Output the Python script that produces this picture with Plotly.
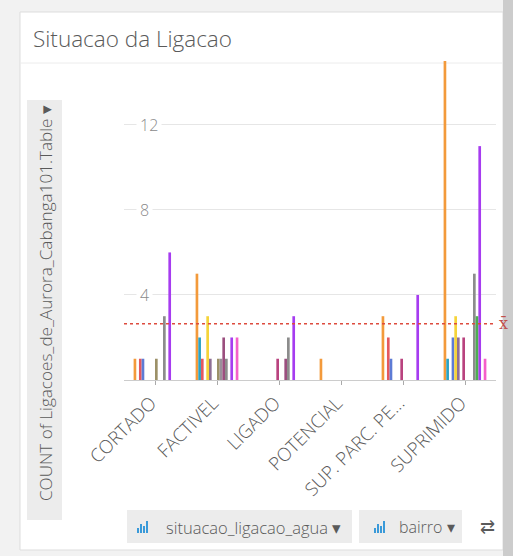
import plotly.graph_objects as go

# Categories of water-connection status
categories = ["CORTADO", "FACTIVEL", "LIGADO", "POTENCIAL", "SUP. PARC. PE...", "SUPRIMIDO"]

# Counts per bairro (one series per bairro, None = no records)
bairro_names = [f"bairro_{i:02d}" for i in range(1, 17)]
counts_b01 = [1, 5, None, 1, 3, 15]
counts_b02 = [None, 2, None, None, None, 1]
counts_b03 = [1, 1, None, None, 2, None]
counts_b04 = [1, None, None, None, 1, 2]
counts_b05 = [None, 3, None, None, None, 3]
counts_b06 = [None, 1, None, None, None, 2]
counts_b07 = [None, None, None, None, None, None]
counts_b08 = [None, None, 1, None, 1, 2]
counts_b09 = [1, 1, None, None, None, None]
counts_b10 = [None, 1, None, None, None, None]
counts_b11 = [None, 2, 1, None, None, None]
counts_b12 = [3, 1, 2, None, None, 5]
counts_b13 = [None, None, None, None, None, 3]
counts_b14 = [6, 2, 3, None, 4, 11]
counts_b15 = [None, None, None, None, None, None]
counts_b16 = [None, 2, None, None, None, 1]

series = [counts_b01, counts_b02, counts_b03, counts_b04, counts_b05, counts_b06,
          counts_b07, counts_b08, counts_b09, counts_b10, counts_b11, counts_b12,
          counts_b13, counts_b14, counts_b15, counts_b16]

colors = ["#f39a3b", "#2ba3c4", "#e4585e", "#5d7bd5", "#f5d43a", "#8e6f95",
          "#c9438f", "#b9437f", "#9c9168", "#9a8f9a", "#9b4f7f", "#8c8c8c",
          "#4caf50", "#a63cf0", "#f06292", "#f55fc9"]

ytick_vals = [4, 8, 12]

fig = go.Figure()
for name, vals, col in zip(bairro_names, series, colors):
    fig.add_trace(go.Bar(x=categories, y=vals, name=name, marker_color=col,
                         marker_line_width=0))

# mean of all drawn bars
all_vals = [v for s in series for v in s if v is not None]
mean_val = sum(all_vals) / len(all_vals)

font_family = "'Open Sans', 'Noto Sans', sans-serif"
text_col = "#5a5a5a"

# plot area in pixels: x 124..496, y 60..380
PL, PR, PT, PB = 124, 496, 60, 380
def px(x):
    return (x - PL) / (PR - PL)
def py(y):
    return (PB - y) / (PB - PT)

def rect(x0, x1, y0, y1, fill, line=None):
    return dict(type="rect", xref="paper", yref="paper", layer="below",
                x0=px(x0), x1=px(x1), y0=py(y1), y1=py(y0),
                fillcolor=fill, line=line or dict(width=0))

def bar_icon(x, ybase):
    # small four-column chart glyph used on the toolbar buttons
    heights = [5, 9, 7, 12]
    out = []
    for i, h in enumerate(heights):
        out.append(dict(type="rect", xref="paper", yref="paper",
                        x0=px(x + i * 3), x1=px(x + i * 3 + 2),
                        y0=py(ybase), y1=py(ybase - h),
                        fillcolor="#3a9ad9", line=dict(width=0)))
    return out

shapes = [
    rect(0, 513, 0, 556, "#f2f2f2"),
    rect(20, 503, 12, 550, "#ffffff", dict(color="#dddddd", width=1)),
    rect(503, 513, 0, 556, "#cccccc"),
    dict(type="line", xref="paper", yref="paper", layer="below",
         x0=px(20), x1=px(503), y0=py(63), y1=py(63),
         line=dict(color="#ececec", width=1)),
    rect(27, 62, 100, 520, "#ececec"),
    rect(127, 352, 510, 543, "#ececec"),
    rect(359, 462, 510, 543, "#ececec"),
    dict(type="line", xref="paper", yref="y", x0=0, x1=1.0,
         y0=mean_val, y1=mean_val,
         line=dict(color="#dd4b3e", width=1.5, dash="dot")),
]
shapes += bar_icon(137, 533)
shapes += bar_icon(374, 533)

fig.update_layout(
    width=513, height=556,
    margin=dict(l=PL, r=513 - PR, t=PT, b=556 - PB),
    paper_bgcolor="rgba(0,0,0,0)",
    plot_bgcolor="rgba(0,0,0,0)",
    barmode="group", bargap=0.31, bargroupgap=0,
    showlegend=False,
    font=dict(family=font_family, color=text_col),
    xaxis=dict(
        tickangle=-45, tickfont=dict(size=18.5, color=text_col, weight=300),
        ticklabelshift=-4,
        showline=True, linecolor="#cccccc", linewidth=1,
        ticks="outside", ticklen=4, tickcolor="#aaaaaa",
        showgrid=False, zeroline=False,
    ),
    yaxis=dict(
        range=[0, 15.05], tickvals=ytick_vals, showticklabels=False,
        showgrid=True, gridcolor="#e6e6e6", gridwidth=1,
        zeroline=False, showline=False,
    ),
    shapes=shapes,
)

annotations = [
    dict(text="Situacao da Ligacao", xref="paper", yref="paper",
         x=px(31), y=py(39), xanchor="left", yanchor="middle",
         showarrow=False, font=dict(size=22.5, color=text_col, weight=300)),
    dict(text="COUNT of Ligacoes_de_Aurora_Cabanga101.Table \u25be", xref="paper", yref="paper",
         x=px(45), y=py(303), textangle=-90, xanchor="center", yanchor="middle",
         showarrow=False, font=dict(size=17.1, color=text_col, weight=300)),
    dict(text="x\u0304", xref="paper", yref="y", x=1.0, y=mean_val,
         xanchor="left", yanchor="middle", xshift=1, showarrow=False,
         font=dict(size=16, color="#c0504d", family="DejaVu Serif")),
    dict(text="situacao_ligacao_agua \u25be",
         xref="paper", yref="paper", x=px(164), y=py(527),
         xanchor="left", yanchor="middle", showarrow=False,
         font=dict(size=16.5, color=text_col, weight=300)),
    dict(text="bairro \u25be",
         xref="paper", yref="paper", x=px(397), y=py(527),
         xanchor="left", yanchor="middle", showarrow=False,
         font=dict(size=16, color=text_col, weight=300)),
    dict(text="\u21c4", xref="paper", yref="paper", x=px(487), y=py(526),
         xanchor="center", yanchor="middle", showarrow=False,
         font=dict(size=18, color=text_col)),
]
for v in ytick_vals:
    annotations.append(dict(text=str(v), xref="paper", yref="y", x=px(136), y=v,
                            xanchor="left", yanchor="middle", showarrow=False,
                            bgcolor="#ffffff", borderpad=3,
                            font=dict(size=16, color="#8a8a8a", weight=300)))
fig.update_layout(annotations=annotations)

fig.write_html("out.html")
